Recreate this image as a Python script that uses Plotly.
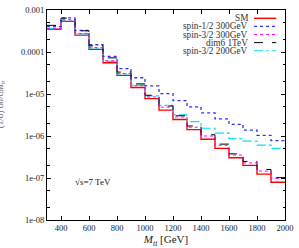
import plotly.graph_objects as go

bin_edges = [300, 400, 500, 600, 700, 800, 900, 1000, 1100, 1200, 1300,
             1400, 1500, 1600, 1700, 1800, 1900, 2000]

sm = [3.48e-4, 5.35e-4, 2.52e-4, 1.156e-4, 5.55e-5, 2.77e-5, 1.43e-5, 7.78e-6,
      4.13e-6, 2.48e-6, 1.42e-6, 8.38e-7, 5.07e-7, 3.03e-7, 2.00e-7, 1.24e-7, 7.94e-8]
spin12_300 = [4.0e-4, 6.5e-4, 3.25e-4, 1.49e-4, 7.85e-5, 4.03e-5, 2.44e-5, 1.56e-5,
              1.02e-5, 6.98e-6, 4.93e-6, 3.56e-6, 2.55e-6, 1.90e-6, 1.38e-6, 1.04e-6, 7.78e-7]
spin32_300 = [3.61e-4, 5.85e-4, 2.77e-4, 1.27e-4, 6.18e-5, 3.08e-5, 1.58e-5, 8.51e-6,
              4.85e-6, 2.84e-6, 1.62e-6, 1.0e-6, 6.01e-7, 3.52e-7, 2.29e-7, 1.46e-7, 9.73e-8]
dim6_1tev = [4.31e-4, 6.41e-4, 3.20e-4, 1.40e-4, 7.24e-5, 3.33e-5, 1.74e-5, 9.33e-6,
             5.18e-6, 3.03e-6, 1.73e-6, 1.07e-6, 6.41e-7, 3.75e-7, 2.48e-7, 1.59e-7, 1.02e-7]
spin32_200 = [3.61e-4, 5.55e-4, 2.69e-4, 1.24e-4, 6.01e-5, 3.0e-5, 1.62e-5, 8.98e-6,
              5.35e-6, 3.20e-6, 2.20e-6, 1.53e-6, 1.17e-6, 8.65e-7, 7.53e-7, 6.08e-7, 5.07e-7]

series_names = ["SM", "spin-1/2 300GeV", "spin-3/2 300GeV", "dim6 1TeV", "spin-3/2 200GeV"]
x_ticks = [400, 600, 800, 1000, 1200, 1400, 1600, 1800, 2000]
y_ticks = [1e-3, 1e-4, 1e-5, 1e-6, 1e-7, 1e-8]
y_tick_labels = ["0.001", "0.0001", "1e-05", "1e-06", "1e-07", "1e-08"]

styles = [
    dict(color="#ff0000", width=1.4, dash="solid"),
    dict(color="#3030ff", width=1.3, dash="dot"),
    dict(color="#ff00ff", width=1.0, dash="dot"),
    dict(color="#000000", width=1.0, dash="dash"),
    dict(color="#00e5ee", width=1.2, dash="dashdot"),
]

FONT = "Liberation Serif"
fig = go.Figure()
all_series = [sm, spin12_300, spin32_300, dim6_1tev, spin32_200]
order = [0, 4, 1, 3, 2]
for i in order:
    vals = all_series[i]
    fig.add_trace(go.Scatter(
        x=bin_edges, y=vals + [vals[-1]], mode="lines", line_shape="hv",
        line=styles[i], name=series_names[i], showlegend=False,
        hoverinfo="skip"))

# legend: text right-aligned, sample on the right
leg_y0 = 13.5
leg_dy = 8.3
plot_top = 5
plot_h = 215
plot_w = 241.1
plot_l = 46.8
for k, name in enumerate(series_names):
    ypix = leg_y0 + k * leg_dy
    yp = 1 - (ypix - plot_top) / plot_h
    fig.add_annotation(xref="paper", yref="paper", x=(252.5 - plot_l) / plot_w, y=yp,
                       text=name, showarrow=False, xanchor="right", yanchor="middle",
                       font=dict(family=FONT, size=9.3, color="#333333"))
    fig.add_shape(type="line", xref="paper", yref="paper",
                  x0=(256.5 - plot_l) / plot_w, x1=(279 - plot_l) / plot_w, y0=yp, y1=yp,
                  line=styles[k])

fig.add_annotation(xref="paper", yref="paper", x=(73 - plot_l) / plot_w,
                   y=1 - (181 - plot_top) / plot_h, text="\u221As=7 TeV", showarrow=False,
                   xanchor="left", yanchor="middle", font=dict(family=FONT, size=9, color="#111111"))

fig.add_annotation(xref="paper", yref="paper", x=(0 - plot_l) / plot_w, y=0.55,
                   text="(1/\u03c3) d\u03c3/d<i>M</i><sub><i>tt</i></sub>", textangle=-90,
                   showarrow=False, xanchor="center", yanchor="middle",
                   font=dict(family=FONT, size=9, color="#666666"))

axis_common = dict(showline=True, linecolor="black", linewidth=1, mirror="allticks",
                   ticks="inside", ticklen=4, tickcolor="black", showgrid=False, zeroline=False,
                   tickfont=dict(family=FONT, size=8.5, color="#222222"))

fig.update_xaxes(range=[300, 2000], tickvals=x_ticks,
                 title=dict(text="<i>M</i><sub><i>tt</i></sub> [GeV]",
                            font=dict(family=FONT, size=11, color="#222222"), standoff=2),
                 **axis_common)
fig.update_yaxes(type="log", range=[-8, -3], tickvals=y_ticks, ticktext=y_tick_labels,
                 minor=dict(ticks="inside", ticklen=2.5, tickcolor="black", dtick="D2",
                            showgrid=False),
                 **axis_common)

fig.update_layout(width=299, height=248, margin=dict(l=47, r=11, t=5, b=28),
                  paper_bgcolor="white", plot_bgcolor="white", showlegend=False)

fig.write_html("out.html", config={"displayModeBar": False},
               post_script="document.body.style.margin='0';document.body.style.overflow='hidden';")
